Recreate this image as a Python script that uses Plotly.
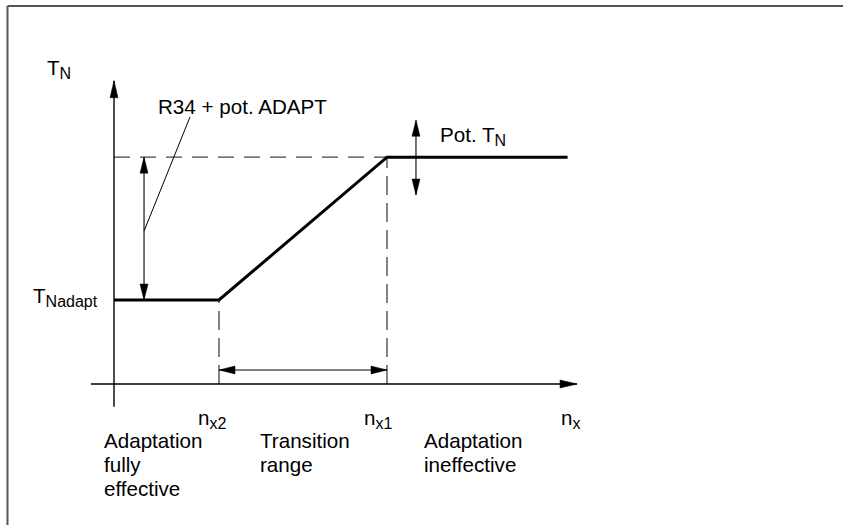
import math
import plotly.graph_objects as go

# ---------------- data (schematic units) ----------------
n_x2 = 1.0
n_x1 = 2.6
n_end = 4.32
T_Nadapt = 1.0
T_N = 2.7

curve_n = [0.0, n_x2, n_x1, n_end]
curve_T = [T_Nadapt, T_Nadapt, T_N, T_N]

x_axis_span = [-0.22, 4.41]
y_axis_span = [-0.27, 3.61]

adapt_arrow_n = 0.286
pot_arrow_n = 2.876
pot_arrow_span = [2.25, 3.14]
range_arrow_T = 0.167
leader_n = [0.286, 0.724]
leader_T = [1.82, 3.18]

# label parts: (main text, subscript)
axis_titles = [("T", "N"), ("n", "x")]
level_label = ("T", "Nadapt")
speed_labels = [("n", "x2"), ("n", "x1")]
param_labels = [("R34 + pot. ADAPT", ""), ("Pot. T", "N")]
region_labels = [["Adaptation", "fully", "effective"],
                 ["Transition", "range"],
                 ["Adaptation", "ineffective"]]

# ---------------- layout geometry ----------------
W, H = 843, 525
X0, SX = 114, 105.0   # pixel x of n=0, pixels per unit
Y0, SY = 384, 84.0    # pixel y of T=0, pixels per unit

def px(x):
    return X0 + x * SX

def py(y):
    return Y0 - y * SY

def dx(p):
    return (p - X0) / SX

def dy(p):
    return (Y0 - p) / SY

FONT = "Liberation Sans, Arial, sans-serif"
FS = 20.6
SUB_FS = 16
fig = go.Figure()


def lab(parts):
    main, sub = parts
    if not sub:
        return main
    return f"{main}<sub><span style='font-size:{SUB_FS}px'>{sub}</span></sub>"


def line(xs, ys, width=1.0, color="black", dash=None):
    fig.add_trace(go.Scatter(x=xs, y=ys, mode="lines", hoverinfo="skip",
                             line=dict(color=color, width=width, dash=dash),
                             showlegend=False))


def head(tx, ty, ux, uy, L=16.0, Wd=8.0):
    # ux, uy : direction in screen pixels (y down)
    n = math.hypot(ux, uy)
    ux, uy = ux / n, uy / n
    tpx, tpy = px(tx), py(ty)
    bx, by = tpx - ux * L, tpy - uy * L
    qx, qy = -uy, ux
    pts = [(tpx, tpy), (bx + qx * Wd / 2, by + qy * Wd / 2),
           (bx - qx * Wd / 2, by - qy * Wd / 2), (tpx, tpy)]
    fig.add_trace(go.Scatter(x=[dx(p[0]) for p in pts], y=[dy(p[1]) for p in pts],
                             mode="lines", fill="toself", fillcolor="black",
                             line=dict(color="black", width=0.5),
                             hoverinfo="skip", showlegend=False))


# dashed guide lines
DASH_COL = "#444444"
line([0, n_x1], [T_N, T_N], 1.3, DASH_COL, "16px,10px")
line([n_x2, n_x2], [0, T_Nadapt], 1.3, DASH_COL, "19px,8px")
line([n_x1, n_x1], [0, T_N], 1.3, DASH_COL, "19px,8px")

# axes
line([0, 0], y_axis_span, 1.4)
head(0, y_axis_span[1], 0, -1, 17, 8)
line(x_axis_span, [0, 0], 1.4)
head(x_axis_span[1], 0, 1, 0, 17, 8)

# characteristic
line(curve_n, curve_T, 3.0)

# adaptation double arrow
line([adapt_arrow_n, adapt_arrow_n], [T_Nadapt, T_N], 1.1)
head(adapt_arrow_n, T_N, 0, -1)
head(adapt_arrow_n, T_Nadapt, 0, 1)

# pot T_N double arrow
line([pot_arrow_n, pot_arrow_n], pot_arrow_span, 1.1)
head(pot_arrow_n, pot_arrow_span[1], 0, -1)
head(pot_arrow_n, pot_arrow_span[0], 0, 1)

# transition range double arrow
line([n_x2, n_x1], [range_arrow_T, range_arrow_T], 1.1)
head(n_x2, range_arrow_T, -1, 0)
head(n_x1, range_arrow_T, 1, 0)

# leader line
line(leader_n, leader_T, 1.0)

# ---------------- texts ----------------
ann = []


def text(s, xpix, ypix, xanchor="left"):
    ann.append(dict(x=dx(xpix), y=dy(ypix), xref="x", yref="y", text=s,
                    showarrow=False, xanchor=xanchor, yanchor="middle",
                    font=dict(family=FONT, size=FS, color="black")))


text(lab(axis_titles[0]), 45, 69)
text(lab(param_labels[0]), 156, 106)
text(lab(param_labels[1]), 438, 136)
text(lab(level_label), 31, 297)
text(lab(speed_labels[0]), 196, 419)
text(lab(speed_labels[1]), 362, 419)
text(lab(axis_titles[1]), 559, 419)

region_x = [102, 258, 422]
for xs, lines_ in zip(region_x, region_labels):
    for i, s in enumerate(lines_):
        text(s, xs, 440 + 24 * i)

# frame (top and left edges)
shapes = [
    dict(type="line", xref="paper", yref="paper", x0=7.5 / W, x1=1.0,
         y0=1 - 6 / H, y1=1 - 6 / H, line=dict(color="#555555", width=2)),
    dict(type="line", xref="paper", yref="paper", x0=7.5 / W, x1=7.5 / W,
         y0=1 - 6 / H, y1=0, line=dict(color="#555555", width=2)),
]

fig.update_layout(
    width=W, height=H,
    margin=dict(l=0, r=0, t=0, b=0),
    paper_bgcolor="white", plot_bgcolor="white",
    xaxis=dict(range=[dx(0), dx(W)], visible=False, fixedrange=True),
    yaxis=dict(range=[dy(H), dy(0)], visible=False, fixedrange=True),
    annotations=ann, shapes=shapes,
    showlegend=False,
)

fig.write_html("out.html", config={"displayModeBar": False},
               post_script="document.body.style.margin='0';document.body.style.overflow='hidden';")
